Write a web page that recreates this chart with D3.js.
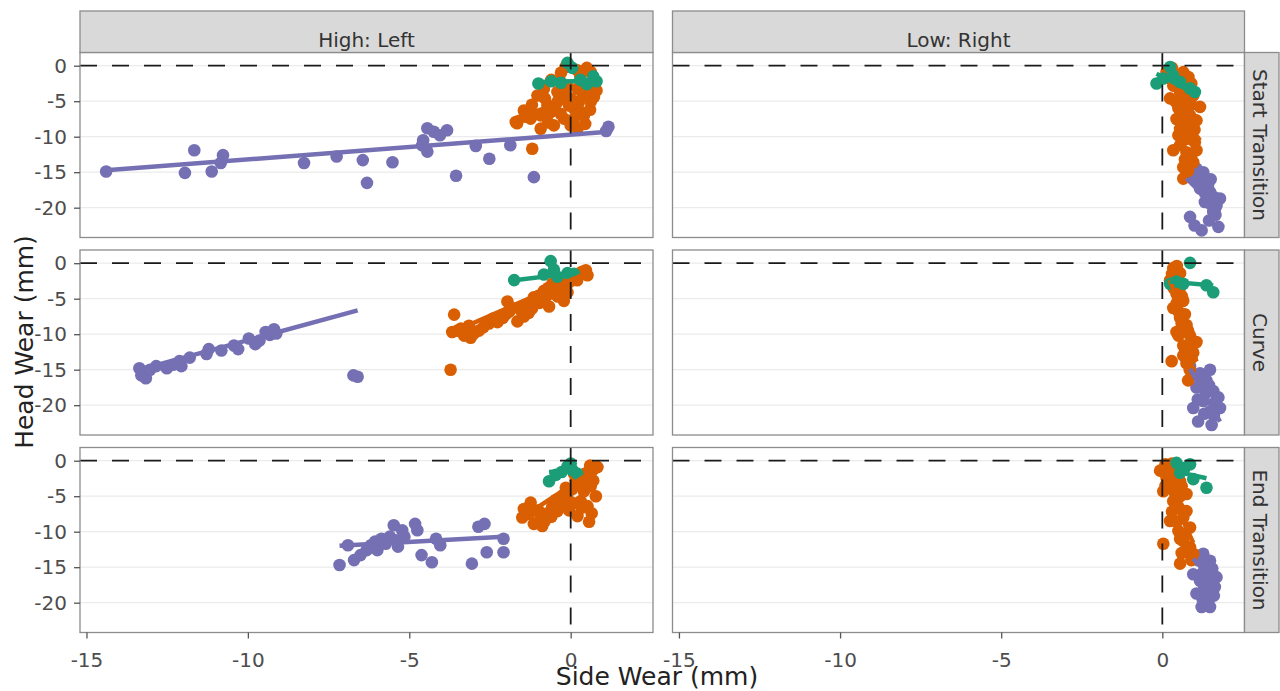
<!DOCTYPE html>
<html>
<head>
<meta charset="utf-8">
<script src="https://cdn.jsdelivr.net/npm/d3@7"></script>
<style>
  html, body { margin: 0; padding: 0; background: #ffffff; }
  svg { display: block; }
</style>
</head>
<body>
<script>
// ---------------- DATA ----------------
const sides = ["High: Left", "Low: Right"];
const sections = ["Start Transition", "Curve", "End Transition"];
const groupColors = ["#7570b3", "#d95f02", "#1b9e77"]; // purple, orange, green
const xTicks = [-15, -10, -5, 0];
const yTicks = [0, -5, -10, -15, -20];
const xTitle = "Side Wear (mm)";
const yTitle = "Head Wear (mm)";

// Start Transition, High: Left
const startLeftPurple = [[-14.39,-14.9],[-11.95,-15.1],[-11.66,-11.9],[-11.12,-14.9],[-10.84,-13.7],[-10.77,-12.6],[-8.26,-13.7],[-7.25,-12.8],[-6.44,-13.3],[-6.31,-16.5],[-5.52,-13.6],[-4.57,-10.5],[-4.44,-8.8],[-4.44,-12.1],[-4.24,-9.3],[-4.05,-9.8],[-3.83,-9.1],[-3.55,-15.5],[-2.94,-11.3],[-2.52,-13.1],[-1.87,-11.2],[-1.14,-15.7],[1.17,-8.6],[-4.6,-11.2],[1.1,-9.2]];
const startLeftOrange = [[-0.16,-0.18],[0.62,-0.89],[0.21,-0.65],[-1.03,-4.2],[-0.83,-3.24],[-1.45,-6.3],[-1.70,-7.93],[-1.24,-7.46],[-0.93,-8.87],[-0.52,-8.4],[0.21,-8.87],[0.62,-5.1],[0.72,-4.4],[0.41,-7.0],[-0.41,-5.1],[0,-4.64],[-0.62,-6.52],[-0.21,-7.46],[-1.19,-11.7],[0.21,-3.24],[-0.41,-3.7],[-0.72,-5.58],[0.1,-6.05],[0.52,-2.8],[-0.10,-2.8],[-0.93,-6.99],[-0.31,-6.76],[0.31,-6.5],[0,-8.4],[-1.66,-8.1],
  [-0.3,-1.0],[0.5,-0.3],[0.3,-1.5],[-0.6,-2.0],[-0.2,-4.0],[0.4,-4.2],[-0.8,-4.6],[-1.2,-5.5],[0.6,-6.2],[-0.5,-6.0],[0.1,-7.5],[-1.4,-7.2],[0.8,-3.5],[0.45,-8.2],[-0.7,-8.0],[-0.05,-5.6],[0.25,-5.2]];
const startLeftGreen = [[-1.0,-2.5],[-0.6,-2.2],[-0.1,0.4],[0.05,-0.3],[0.3,-2.0],[0.8,-2.2],[0.7,-1.5],[-0.3,-2.4],[0.5,-2.6]];
// Start Transition, Low: Right
const startRightPurple = [[0.75,-14.0],[1.06,-14.5],[1.27,-15.0],[0.96,-15.9],[1.37,-16.4],[1.17,-17.3],[1.48,-17.8],[1.79,-18.7],[1.68,-19.7],[1.32,-19.2],[1.58,-20.6],[0.86,-21.3],[1.22,-23.2],[1.74,-22.7],[1.42,-16.8],[1.11,-15.4],
  [0.9,-14.8],[1.2,-16.2],[1.5,-16.0],[1.3,-17.8],[1.6,-18.5],[1.4,-18.8],[1.5,-19.5],[1.65,-21.0],[1.0,-22.5],[1.45,-21.8]];
const startRightOrange = [[0.13,-0.9],[0.65,-0.9],[0.81,-1.6],[0.34,-2.8],[0.55,-3.7],[0.96,-4.2],[0.44,-5.1],[1.17,-5.8],[0.65,-6.3],[0.86,-7.0],[0.44,-7.5],[1.06,-7.7],[0.55,-8.9],[0.86,-9.3],[0.65,-10.5],[1.01,-10.8],[0.34,-11.9],[0.75,-12.2],[1.06,-11.9],[0.65,-14.3],[0.65,-15.9],[0.96,-13.6],[0.24,-4.6],[0.75,-3.2],
  [0.3,-0.3],[0.5,-1.5],[0.9,-2.5],[0.25,-1.8],[0.6,-2.2],[0.7,-4.8],[0.5,-6.0],[0.9,-5.5],[0.6,-7.8],[0.75,-8.2],[0.5,-9.8],[0.8,-10.3],[0.55,-11.2],[0.9,-12.6],[0.7,-13.2],[0.8,-14.8],[1.0,-9.0]];
const startRightGreen = [[0.24,-0.18],[-0.18,-2.5],[0.03,-1.8],[0.55,-2.3],[0.86,-3.2],[1.01,-3.7],[0.34,-1.4]];
// Curve, High: Left
const curveLeftPurple = [[-13.36,-14.8],[-13.30,-15.8],[-13.16,-16.2],[-13.03,-15.0],[-12.84,-14.5],[-12.51,-14.8],[-12.32,-14.3],[-12.12,-13.8],[-12.06,-14.5],[-11.80,-13.3],[-11.28,-12.8],[-11.21,-12.1],[-10.82,-12.3],[-10.43,-11.6],[-10.30,-12.1],[-9.97,-10.6],[-9.77,-11.4],[-9.64,-10.9],[-9.45,-9.7],[-9.32,-10.1],[-9.19,-9.3],[-9.12,-9.9],[-6.73,-15.8],[-6.60,-16.0]];
const curveLeftOrange = [[-3.61,-7.24],[-3.72,-15.0],[-3.67,-9.7],[-3.51,-9.5],[-3.30,-10.2],[-3.10,-10.5],[-3.15,-8.8],[-2.84,-9.5],[-2.53,-8.5],[-2.27,-8.3],[-1.96,-5.4],[-2.01,-7.2],[-1.81,-6.3],[-1.65,-8.2],[-1.45,-7.5],[-1.34,-5.8],[-1.14,-4.8],[-0.98,-5.6],[-0.83,-3.9],[-0.67,-6.1],[-0.52,-4.3],[-0.31,-3.4],[-0.21,-5.3],[-0.05,-2.7],[0.10,-2.0],[0.26,-1.5],[0.47,-1.0],[0.52,-1.7],[-0.10,-4.1],[-0.57,-2.9],
  [-3.4,-9.2],[-3.0,-9.9],[-2.7,-9.0],[-2.4,-7.8],[-2.1,-7.7],[-1.9,-6.8],[-1.55,-6.6],[-1.2,-6.4],[-1.0,-4.6],[-0.8,-5.0],[-0.4,-4.7],[-0.25,-2.5],[0.2,-2.4],[0.35,-1.2],[-0.7,-3.5],[-1.3,-7.0]];
const curveLeftGreen = [[-1.75,-2.38],[-0.62,0.29],[-0.52,-0.9],[-0.83,-1.6],[-0.1,-1.4],[-0.41,-1.9],[0.1,-1.5]];
// Curve, Low: Right
const curveRightPurple = [[0.86,-14.5],[1.17,-15.5],[1.48,-15.0],[1.37,-16.5],[1.06,-17.5],[1.58,-18.0],[1.74,-18.9],[1.27,-19.4],[0.96,-20.4],[1.48,-20.9],[1.11,-22.3],[1.53,-22.8],[1.79,-20.4],
  [0.95,-15.8],[1.3,-16.0],[1.2,-17.0],[1.45,-17.2],[1.35,-18.3],[1.65,-19.5],[1.1,-19.2],[1.3,-21.2],[1.6,-21.5]];
const curveRightOrange = [[0.34,-0.7],[0.55,-1.4],[0.24,-2.4],[0.44,-4.3],[0.65,-5.3],[0.34,-6.3],[0.55,-7.7],[0.75,-8.7],[0.44,-9.7],[0.86,-10.2],[0.65,-11.6],[0.96,-12.6],[0.75,-14.1],[0.80,-16.5],[0.29,-13.8],[1.06,-11.1],[0.55,-3.4],
  [0.45,-0.4],[0.3,-1.5],[0.5,-2.5],[0.35,-3.5],[0.6,-4.6],[0.45,-5.6],[0.5,-6.8],[0.7,-7.2],[0.6,-8.5],[0.5,-10.2],[0.8,-9.5],[0.7,-12.0],[0.9,-13.4],[0.85,-15.0],[0.65,-13.0]];
const curveRightGreen = [[0.86,0.05],[0.44,-2.6],[0.65,-2.9],[1.37,-3.1],[1.58,-4.1],[0.24,-2.9]];
// End Transition, High: Left
const endLeftPurple = [[-7.16,-14.7],[-6.90,-11.9],[-6.71,-14.0],[-6.51,-13.3],[-6.32,-12.6],[-6.19,-11.9],[-6.06,-11.4],[-5.99,-12.6],[-5.86,-11.0],[-5.73,-11.7],[-5.60,-10.7],[-5.48,-9.1],[-5.41,-11.2],[-5.35,-12.1],[-5.22,-9.8],[-5.15,-10.7],[-4.82,-8.9],[-4.75,-9.8],[-4.62,-13.3],[-4.30,-14.3],[-4.17,-11.0],[-4.04,-11.9],[-3.06,-14.5],[-2.86,-9.3],[-2.67,-8.9],[-2.60,-12.9],[-2.08,-11.0],[-2.08,-12.9]];
const endLeftOrange = [[-1.24,-5.9],[-1.45,-6.8],[-1.29,-7.5],[-1.50,-8.0],[-1.14,-8.9],[-0.88,-9.2],[-0.93,-8.0],[-0.72,-7.4],[-0.57,-6.5],[-0.41,-7.1],[-0.31,-5.7],[-0.21,-4.8],[-0.15,-3.8],[0.05,-4.0],[0.15,-2.8],[0.31,-5.7],[0.41,-4.3],[0.52,-2.4],[0.67,-1.4],[0.83,-0.9],[0.62,-3.6],[0.52,-6.4],[0.57,-8.6],[0.21,-7.8],[-0.05,-7.0],[0.78,-5.0],
  [-1.35,-7.1],[-1.0,-7.0],[-0.8,-8.5],[-0.6,-7.9],[-0.45,-5.5],[-0.1,-5.2],[0.1,-6.0],[0.3,-3.5],[0.45,-1.8],[0.6,-0.7],[0.7,-2.8],[0.1,-1.8],[0.35,-6.6],[0.65,-7.4],[-0.25,-6.3]];
const endLeftGreen = [[-0.67,-2.9],[-0.46,-2.0],[-0.10,-0.8],[0.05,-1.3],[0.2,-1.8],[-0.28,-1.6],[0,-0.4]];
// End Transition, Low: Right
const endRightPurple = [[1.27,-13.1],[1.48,-14.1],[1.37,-15.5],[1.68,-16.4],[1.17,-16.9],[1.63,-17.8],[1.06,-18.7],[1.43,-19.7],[1.22,-20.6],[1.48,-20.6],[0.96,-16.0],
  [1.1,-14.0],[1.35,-14.8],[1.55,-15.2],[1.25,-15.8],[1.5,-17.0],[1.3,-18.0],[1.55,-18.7],[1.25,-19.5],[1.35,-20.3],[1.6,-19.0]];
const endRightOrange = [[-0.07,-1.4],[0.03,-4.3],[0.13,-2.4],[0.55,-2.9],[0.75,-4.7],[0.34,-5.7],[0.75,-7.1],[0.24,-8.5],[0.50,-9.9],[0.65,-11.3],[0.86,-12.2],[0.03,-11.7],[0.55,-14.5],[0.96,-13.1],[0.86,-9.4],[0.39,-1.0],
  [0.1,-0.5],[0.3,-0.4],[0.2,-1.5],[0.45,-2.0],[0.25,-3.2],[0.6,-3.6],[0.4,-4.4],[0.55,-5.0],[0.5,-6.5],[0.3,-7.2],[0.65,-8.0],[0.45,-8.6],[0.7,-10.5],[0.55,-11.0],[0.75,-12.8],[0.9,-14.0],[0.6,-13.0],[0.1,-3.5]];
const endRightGreen = [[0.44,-0.3],[0.86,-0.5],[0.55,-1.7],[0.96,-2.6],[1.37,-3.8],[0.7,-1.0]];

// linear fit per panel & group (order: Start L, Start R, Curve L, Curve R, End L, End R; each purple, orange, green)
const fitSlope     = [0.35, 1.5, 0.1,  -4.5, -6, -2.3,   1.235, 2.0, 0.54,  -8, -14, -0.4,   0.25, 3.0, 0.3,   -5, -10, -1.0];
const fitIntercept = [-9.7, -4.8, -2.2, -12.5, -3.5, -1.55, 1.5, -2.4, -1.45, -8, 1, -2.5,  -10.2, -3.5, -1.4, -9, -2, -1.1];

// table built from the arrays
const panelSeries = [
  [startLeftPurple, startLeftOrange, startLeftGreen],
  [startRightPurple, startRightOrange, startRightGreen],
  [curveLeftPurple, curveLeftOrange, curveLeftGreen],
  [curveRightPurple, curveRightOrange, curveRightGreen],
  [endLeftPurple, endLeftOrange, endLeftGreen],
  [endRightPurple, endRightOrange, endRightGreen]
];

// ---------------- LAYOUT ----------------
const W = 1280, H = 691;
const colX = [[80, 653], [672.5, 1244.5]];
const rowY = [[52.5, 237.5], [250, 435], [447.5, 632.5]];
const stripTop = 11;
const stripRight = 1279;
const xDomain = [-15.2, 2.55];
const yDomain = [-24.2, 1.86];
const FONT = "'DejaVu Sans', Verdana, sans-serif";

const svg = d3.select("body").append("svg").attr("width", W).attr("height", H);
svg.append("rect").attr("width", W).attr("height", H).attr("fill", "#fff");

const xs = colX.map(c => d3.scaleLinear().domain(xDomain).range(c));
const ys = rowY.map(r => d3.scaleLinear().domain(yDomain).range([r[1], r[0]]));

const defs = svg.append("defs");

sections.forEach((sec, ri) => {
  sides.forEach((side, ci) => {
    const x = xs[ci], y = ys[ri];
    const pid = ri * 2 + ci;
    const clipId = "clip" + pid;
    defs.append("clipPath").attr("id", clipId).append("rect")
      .attr("x", colX[ci][0]).attr("y", rowY[ri][0])
      .attr("width", colX[ci][1] - colX[ci][0]).attr("height", rowY[ri][1] - rowY[ri][0]);

    const g = svg.append("g");
    g.append("rect")
      .attr("x", colX[ci][0]).attr("y", rowY[ri][0])
      .attr("width", colX[ci][1] - colX[ci][0]).attr("height", rowY[ri][1] - rowY[ri][0])
      .attr("fill", "#fff");

    // grid
    g.selectAll("line.grid").data(yTicks).enter().append("line")
      .attr("x1", colX[ci][0]).attr("x2", colX[ci][1])
      .attr("y1", d => y(d)).attr("y2", d => y(d))
      .attr("stroke", "#ebebeb").attr("stroke-width", 1.2);

    const inner = g.append("g").attr("clip-path", `url(#${clipId})`);
    const series = panelSeries[pid];

    // points
    series.forEach((pts, gi) => {
      inner.selectAll(null).data(pts).enter().append("circle")
        .attr("cx", d => x(d[0])).attr("cy", d => y(d[1]))
        .attr("r", 6.3).attr("fill", groupColors[gi]);
    });
    // fit lines
    series.forEach((pts, gi) => {
      const k = pid * 3 + gi;
      const ext = d3.extent(pts, d => d[0]);
      const lineData = ext.map(v => [v, fitSlope[k] * v + fitIntercept[k]]);
      inner.append("path")
        .attr("d", d3.line().x(d => x(d[0])).y(d => y(d[1]))(lineData))
        .attr("stroke", groupColors[gi]).attr("stroke-width", 4.5)
        .attr("fill", "none").attr("stroke-linecap", "butt");
    });
    // reference dashed lines
    inner.append("line")
      .attr("x1", colX[ci][0]).attr("x2", colX[ci][1])
      .attr("y1", y(0)).attr("y2", y(0))
      .attr("stroke", "#1a1a1a").attr("stroke-width", 1.8).attr("stroke-dasharray", "17,15");
    inner.append("line")
      .attr("x1", x(0)).attr("x2", x(0))
      .attr("y1", rowY[ri][0]).attr("y2", rowY[ri][1])
      .attr("stroke", "#1a1a1a").attr("stroke-width", 1.8).attr("stroke-dasharray", "17,15");

    // border
    g.append("rect")
      .attr("x", colX[ci][0]).attr("y", rowY[ri][0])
      .attr("width", colX[ci][1] - colX[ci][0]).attr("height", rowY[ri][1] - rowY[ri][0])
      .attr("fill", "none").attr("stroke", "#8c8c8c").attr("stroke-width", 1.3);

    // axes
    if (ci === 0) {
      const ax = svg.append("g").attr("transform", `translate(${colX[0][0]},0)`)
        .call(d3.axisLeft(y).tickValues(yTicks).tickFormat(d => String(d)).tickSize(6).tickPadding(7));
      styleAxis(ax);
    }
    if (ri === 2) {
      const ax = svg.append("g").attr("transform", `translate(0,${rowY[2][1]})`)
        .call(d3.axisBottom(x).tickValues(xTicks).tickFormat(d => String(d)).tickSize(6).tickPadding(14));
      styleAxis(ax);
    }
  });
});

function styleAxis(ax) {
  ax.select(".domain").remove();
  ax.selectAll(".tick line").attr("stroke", "#555").attr("stroke-width", 1.3);
  ax.selectAll(".tick text").attr("fill", "#4d4d4d")
    .style("font-family", FONT).style("font-size", "20px");
}

// top strips
sides.forEach((side, ci) => {
  svg.append("rect")
    .attr("x", colX[ci][0]).attr("y", stripTop)
    .attr("width", colX[ci][1] - colX[ci][0]).attr("height", rowY[0][0] - stripTop)
    .attr("fill", "#d9d9d9").attr("stroke", "#8c8c8c").attr("stroke-width", 1.3);
  svg.append("text")
    .attr("x", (colX[ci][0] + colX[ci][1]) / 2).attr("y", 46.5)
    .attr("text-anchor", "middle").attr("fill", "#333")
    .style("font-family", FONT).style("font-size", "20px")
    .text(side);
});
// right strips
sections.forEach((sec, ri) => {
  svg.append("rect")
    .attr("x", colX[1][1]).attr("y", rowY[ri][0])
    .attr("width", stripRight - colX[1][1]).attr("height", rowY[ri][1] - rowY[ri][0])
    .attr("fill", "#d9d9d9").attr("stroke", "#8c8c8c").attr("stroke-width", 1.3);
  const cy = (rowY[ri][0] + rowY[ri][1]) / 2;
  svg.append("text")
    .attr("transform", `translate(1253,${cy}) rotate(90)`)
    .attr("text-anchor", "middle").attr("fill", "#333")
    .style("font-family", FONT).style("font-size", "20px")
    .text(sec);
});

// axis titles
svg.append("text")
  .attr("x", 657).attr("y", 685)
  .attr("text-anchor", "middle").attr("fill", "#222")
  .style("font-family", FONT).style("font-size", "25px")
  .text(xTitle);
svg.append("text")
  .attr("transform", "translate(33,342) rotate(-90)")
  .attr("text-anchor", "middle").attr("fill", "#222")
  .style("font-family", FONT).style("font-size", "25px")
  .text(yTitle);
</script>
</body>
</html>
